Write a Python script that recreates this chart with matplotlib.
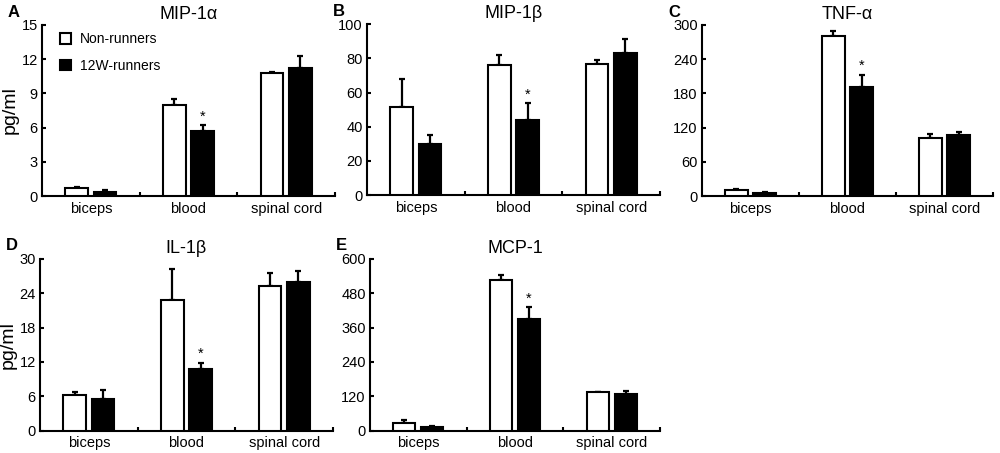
import matplotlib
matplotlib.use('Agg')
import matplotlib.pyplot as plt
import numpy as np
from matplotlib.patches import Patch

plt.rcParams['font.family'] = ['Liberation Sans', 'DejaVu Sans']

# Категории и группы
categories = ['biceps', 'blood', 'spinal cord']
groups = ['Non-runners', '12W-runners']

# Панель A: MIP-1α
mip1a_non = [0.7, 8.0, 10.75]
mip1a_non_err = [0.08, 0.5, 0.15]
mip1a_run = [0.4, 5.7, 11.25]
mip1a_run_err = [0.12, 0.5, 1.05]

# Панель B: MIP-1β
mip1b_non = [51.3, 76.0, 76.4]
mip1b_non_err = [16.7, 5.7, 2.6]
mip1b_run = [30.2, 43.7, 83.2]
mip1b_run_err = [5.1, 9.9, 8.0]

# Панель C: TNF-α
tnfa_non = [10.5, 280.8, 102.0]
tnfa_non_err = [2.3, 9.2, 6.7]
tnfa_run = [5.8, 191.0, 107.0]
tnfa_run_err = [1.2, 22.0, 6.0]

# Панель D: IL-1β
il1b_non = [6.2, 22.8, 25.2]
il1b_non_err = [0.6, 5.4, 2.3]
il1b_run = [5.6, 10.8, 26.0]
il1b_run_err = [1.45, 1.1, 1.9]

# Панель E: MCP-1
mcp1_non = [26.8, 525.6, 135.0]
mcp1_non_err = [9.2, 17.4, 0.0]
mcp1_run = [14.0, 388.0, 129.0]
mcp1_run_err = [3.5, 42.0, 11.0]

panels = [
    ('A', 'MIP-1\u03b1', mip1a_non, mip1a_non_err, mip1a_run, mip1a_run_err, [0, 3, 6, 9, 12, 15], True),
    ('B', 'MIP-1\u03b2', mip1b_non, mip1b_non_err, mip1b_run, mip1b_run_err, [0, 20, 40, 60, 80, 100], False),
    ('C', 'TNF-\u03b1', tnfa_non, tnfa_non_err, tnfa_run, tnfa_run_err, [0, 60, 120, 180, 240, 300], False),
    ('D', 'IL-1\u03b2', il1b_non, il1b_non_err, il1b_run, il1b_run_err, [0, 6, 12, 18, 24, 30], True),
    ('E', 'MCP-1', mcp1_non, mcp1_non_err, mcp1_run, mcp1_run_err, [0, 120, 240, 360, 480, 600], False),
]

# Положение осей в долях фигуры (left, bottom, width, height)
positions = [
    (0.042, 0.567, 0.293, 0.378),
    (0.367, 0.569, 0.293, 0.378),
    (0.702, 0.567, 0.291, 0.378),
    (0.040, 0.049, 0.293, 0.380),
    (0.370, 0.049, 0.290, 0.380),
]

fig = plt.figure(figsize=(10, 4.53), dpi=100)

x = np.arange(len(categories))
width = 0.23
offset = 0.145

for (letter, title, non, non_err, run, run_err, yticks, ylabel), pos in zip(panels, positions):
    ax = fig.add_axes(pos)
    zeros = [0] * len(categories)
    ax.bar(x - offset, non, width, color='white', edgecolor='black', linewidth=1.5, zorder=3)
    ax.errorbar(x - offset, non, yerr=[zeros, non_err], fmt='none', ecolor='black',
                elinewidth=1.6, capsize=2, capthick=1.6, zorder=2)
    ax.bar(x + offset, run, width, color='black', edgecolor='black', linewidth=1.5, zorder=3)
    ax.errorbar(x + offset, run, yerr=[zeros, run_err], fmt='none', ecolor='black',
                elinewidth=1.6, capsize=2, capthick=1.6, zorder=2)

    # Звёздочка над кровью (12W-runners)
    top = run[1] + run_err[1]
    ax.text(x[1] + offset, top + yticks[-1] * 0.01, '*', ha='center', va='bottom', fontsize=10.5)

    ax.set_xlim(-0.5, 2.5)
    ax.set_ylim(0, yticks[-1])
    ax.set_yticks(yticks)
    ax.set_xticks(x)
    ax.set_xticklabels(categories, fontsize=10.5)
    ax.tick_params(axis='x', length=0, pad=4)
    ax.set_xticks([0.5, 1.5, 2.5], minor=True)
    ax.tick_params(axis='x', which='minor', direction='in', length=3, width=1.5)
    ax.tick_params(axis='y', direction='in', length=3, width=1.5, labelsize=10.5, pad=3)
    for s in ['top', 'right']:
        ax.spines[s].set_visible(False)
    for s in ['left', 'bottom']:
        ax.spines[s].set_linewidth(1.5)

    ax.set_title(title, fontsize=13, pad=4)
    if ylabel:
        ax.set_ylabel('pg/ml', fontsize=14, labelpad=2)

    fig.text(pos[0] - 0.034, pos[1] + pos[3] + 0.028, letter, fontsize=12,
             fontweight='bold', ha='left', va='center')

    if letter == 'A':
        handles = [Patch(facecolor='white', edgecolor='black', linewidth=1.5),
                   Patch(facecolor='black', edgecolor='black', linewidth=1.5)]
        ax.legend(handles, groups, loc='upper left', bbox_to_anchor=(0.02, 1.03), frameon=False,
                  fontsize=10, handlelength=0.8, handleheight=0.8, handletextpad=0.6,
                  labelspacing=0.9)

plt.savefig('out.png', dpi=100)
